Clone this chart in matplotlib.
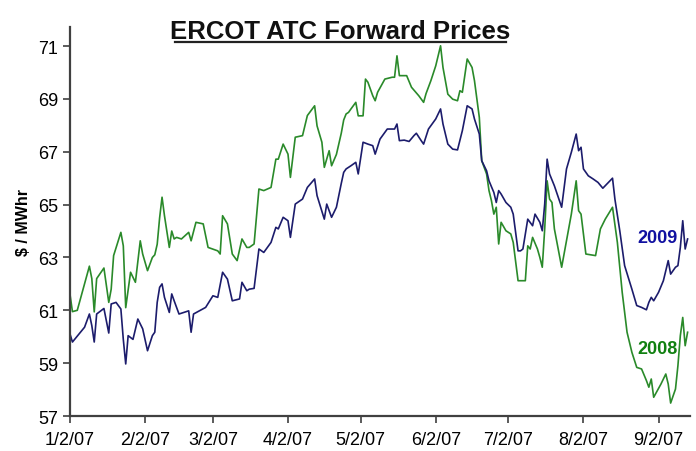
import numpy as np
import pandas as pd
import matplotlib
matplotlib.use("Agg")
import matplotlib.pyplot as plt

# --- data (days counted from 1/2/07) ---
cal08_days = [0, 1, 3, 8, 9, 10, 11, 14, 16, 17, 18, 21, 22, 23, 25, 27, 29, 30, 32, 34,
              35, 36, 37, 38, 39, 41, 42, 43, 44, 46, 49, 50, 52, 55, 57, 61, 62, 63, 65, 67,
              69, 71, 73, 74, 76, 78, 80, 83, 85, 86, 88, 90, 91, 93, 96, 98, 100, 101, 102, 104,
              105, 107, 108, 110, 112, 113, 114, 115, 116, 118, 119, 121, 122, 123, 125, 126, 127, 130, 133, 134,
              135, 136, 139, 141, 144, 146, 147, 149, 151, 153, 154, 156, 158, 160, 161, 162, 164, 166, 167, 169,
              170, 172, 173, 174, 175, 176, 177, 178, 180, 182, 183, 185, 188, 189, 190, 191, 193, 194, 195, 196,
              197, 198, 199, 200, 203, 205, 207, 209, 210, 211, 213, 217, 219, 221, 222, 224, 226, 228, 230, 232,
              234, 236, 238, 239, 240, 241, 244, 246, 247, 248, 250, 251, 252, 253, 254, 255]
cal08_price = [61.6, 60.95, 61.0, 62.67, 62.2, 60.94, 62.2, 62.6, 61.3, 61.8, 63.07, 63.95, 63.44, 61.1, 62.44, 62.06, 63.63, 63.13, 62.5, 63.0,
               63.1, 63.5, 64.5, 65.28, 64.58, 63.38, 64.0, 63.7, 63.76, 63.7, 63.95, 63.63, 64.33, 64.27, 63.38, 63.25, 63.13, 64.58, 64.27, 63.13,
               62.88, 63.7, 63.38, 63.38, 63.51, 65.59, 65.53, 65.65, 66.72, 66.72, 67.29, 66.91, 66.03, 67.55, 67.61, 68.37, 68.62, 68.74, 67.98, 67.36,
               66.41, 67.04, 66.47, 66.9, 67.7, 68.2, 68.43, 68.49, 68.62, 68.87, 68.36, 68.36, 69.75, 69.63, 69.12, 68.93, 69.25, 69.75, 69.82, 69.82,
               70.63, 69.88, 69.88, 69.44, 69.12, 68.87, 69.2, 69.69, 70.25, 71.01, 70.19, 69.18, 68.99, 68.93, 69.31, 69.25, 70.51, 70.19, 69.69, 68.3,
               66.66, 66.16, 65.53, 65.15, 64.64, 64.9, 63.51, 64.33, 64.01, 63.89, 63.57, 62.12, 62.12, 63.44, 63.32, 63.76, 63.32, 63.0, 62.63, 64.08,
               65.9, 65.21, 65.08, 64.08, 62.63, 63.63, 64.64, 65.9, 64.77, 64.64, 63.13, 63.07, 64.08, 64.45, 64.6, 64.9, 63.57, 61.68, 60.17, 59.41,
               58.84, 58.78, 58.34, 58.09, 58.4, 57.71, 58.21, 58.59, 58.21, 57.49, 58.02, 58.9, 60.04, 60.73, 59.66, 60.17]

cal09_days = [0, 1, 6, 8, 9, 10, 11, 14, 16, 17, 19, 21, 22, 23, 24, 26, 28, 30, 32, 34,
              35, 36, 37, 38, 39, 41, 42, 43, 45, 49, 50, 51, 56, 59, 61, 63, 65, 67, 70, 71,
              73, 74, 76, 78, 80, 83, 85, 86, 88, 90, 91, 93, 96, 98, 101, 102, 105, 106, 108, 110,
              112, 113, 114, 116, 118, 119, 121, 123, 125, 126, 128, 130, 131, 134, 135, 136, 138, 140, 142, 143,
              145, 146, 148, 151, 153, 154, 156, 158, 160, 162, 164, 166, 167, 169, 170, 172, 173, 175, 176, 177,
              178, 180, 182, 183, 185, 186, 187, 189, 191, 192, 194, 195, 196, 197, 198, 200, 203, 205, 207, 209,
              210, 211, 212, 214, 216, 218, 220, 224, 225, 227, 229, 232, 234, 236, 238, 239, 240, 241, 243, 245,
              247, 248, 250, 251, 252, 253, 254, 255]
cal09_price = [60.1, 59.8, 60.36, 60.86, 60.42, 59.8, 60.86, 61.07, 60.14, 61.24, 61.3, 61.05, 59.9, 58.97, 60.04, 59.9, 60.67, 60.3, 59.47, 60.04,
               60.17, 61.3, 61.87, 62.0, 61.49, 60.92, 61.62, 61.36, 60.86, 60.98, 60.17, 60.86, 61.11, 61.55, 61.49, 62.44, 62.18, 61.36, 61.43, 62.06,
               61.74, 61.8, 61.83, 63.32, 63.19, 63.57, 64.14, 64.08, 64.52, 64.39, 63.76, 65.02, 65.21, 65.65, 65.97, 65.34, 64.45, 65.02, 64.52, 64.9,
               65.8, 66.22, 66.35, 66.47, 66.6, 66.16, 67.36, 67.29, 67.23, 66.91, 67.48, 67.73, 67.86, 67.86, 68.05, 67.42, 67.44, 67.39, 67.61, 67.7,
               67.42, 67.29, 67.86, 68.24, 68.62, 68.05, 67.29, 67.1, 67.07, 67.8, 68.74, 68.62, 68.24, 67.67, 66.66, 66.28, 65.9, 65.46, 65.08, 65.53,
               65.4, 65.08, 64.9, 64.64, 63.25, 63.25, 63.32, 64.45, 64.2, 64.64, 64.33, 64.01, 65.02, 66.72, 66.16, 65.71, 64.9, 66.35, 66.98, 67.67,
               67.04, 67.17, 66.35, 66.09, 65.97, 65.84, 65.62, 66.0, 65.2, 64.01, 62.69, 61.8, 61.18, 61.11, 61.02, 61.3, 61.49, 61.36, 61.68, 62.12,
               62.88, 62.37, 62.63, 62.69, 63.38, 64.39, 63.32, 63.7]

tick_dates = ["2007-01-02", "2007-02-02", "2007-03-02", "2007-04-02", "2007-05-02",
              "2007-06-02", "2007-07-02", "2007-08-02", "2007-09-02"]
tick_labels = ["1/2/07", "2/2/07", "3/2/07", "4/2/07", "5/2/07", "6/2/07", "7/2/07", "8/2/07", "9/2/07"]
y_ticks = [57, 59, 61, 63, 65, 67, 69, 71]

start = pd.Timestamp("2007-01-02")
x08 = start + pd.to_timedelta(cal08_days, unit="D")
x09 = start + pd.to_timedelta(cal09_days, unit="D")

plt.rcParams["font.family"] = ["Liberation Sans", "DejaVu Sans"]

fig = plt.figure(figsize=(6.96, 4.52), dpi=100)
ax = fig.add_axes([0.1006, 0.0774, 0.8908, 0.8606])

ax.plot(x08, cal08_price, color="#2a8a2a", lw=1.2)
ax.plot(x09, cal09_price, color="#1c1c6c", lw=1.2)

ax.set_xlim(start, start + pd.Timedelta(days=256))
ax.set_ylim(57, 71.72)
ax.set_yticks(y_ticks)
ax.set_xticks(pd.to_datetime(tick_dates))
ax.set_xticklabels(tick_labels)
ax.tick_params(axis="both", labelsize=13, color="#404040", width=1.2, length=5, direction="out")
ax.tick_params(axis="x", pad=6)

for s in ["top", "right"]:
    ax.spines[s].set_visible(False)
for s in ["left", "bottom"]:
    ax.spines[s].set_color("#404040")
    ax.spines[s].set_linewidth(1.6)

ax.set_ylabel(r"\$ / MWhr", fontsize=11.5, fontweight="bold", labelpad=5)

ax.text(start + pd.Timedelta(days=242.5), 63.75, "2009", color="#1010a0",
        fontsize=13, fontweight="bold", ha="center", va="center")
ax.text(start + pd.Timedelta(days=242.5), 59.55, "2008", color="#108010",
        fontsize=13, fontweight="bold", ha="center", va="center")

fig.text(340 / 696, 1 - 39 / 452, "ERCOT ATC Forward Prices", fontsize=18.5, fontweight="bold",
         ha="center", va="baseline", color="#111111")
fig.add_artist(plt.Line2D([175 / 696, 506 / 696], [1 - 43 / 452, 1 - 43 / 452],
                          color="#222222", lw=1.6))

fig.savefig("out.png", dpi=100)
